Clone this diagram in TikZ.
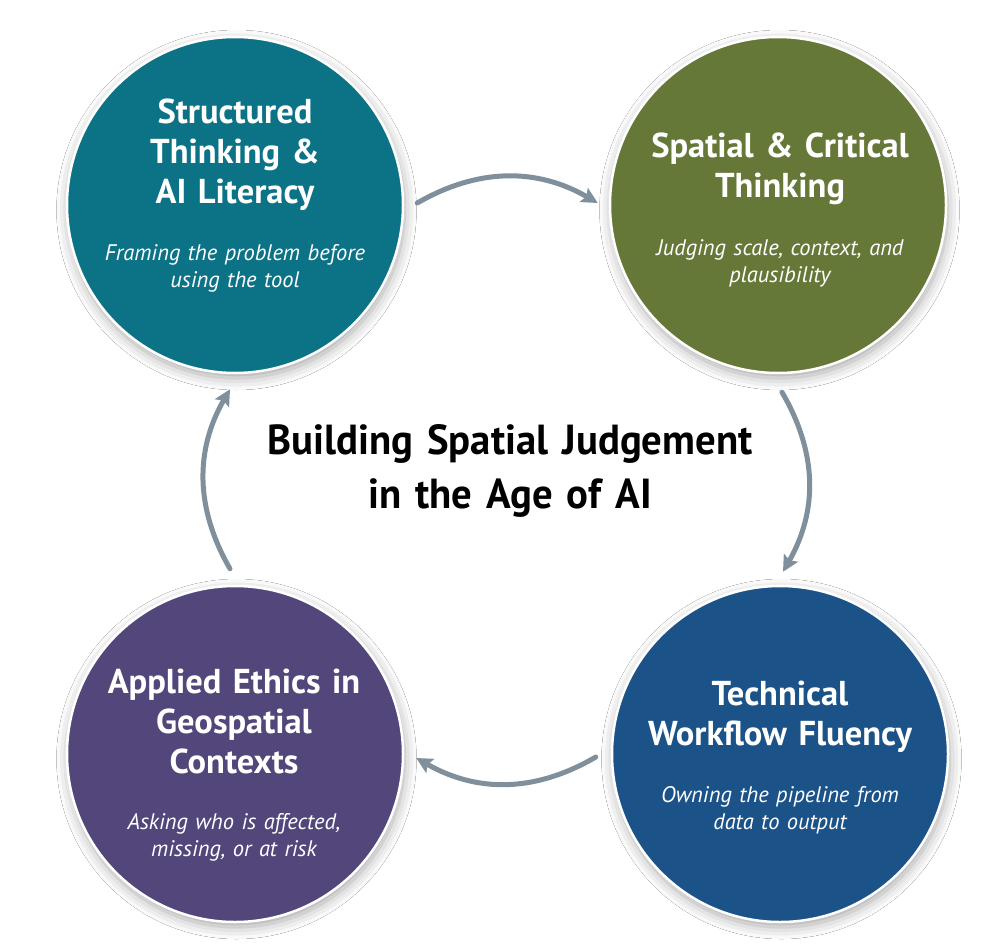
\documentclass[tikz,border=0pt]{standalone}
\usepackage{fontspec}
\setmainfont[WordSpace=0.8]{PT Sans}
\newfontfamily\titlefont[FakeStretch=0.97,WordSpace=0.85]{PT Sans}
\usetikzlibrary{arrows.meta,shadows.blur}
\definecolor{cteal}{HTML}{0C7286}
\definecolor{colive}{HTML}{667838}
\definecolor{cblue}{HTML}{1B5287}
\definecolor{cpurple}{HTML}{52467A}
\definecolor{arrowgray}{HTML}{7F8F9B}
\begin{document}
\begin{tikzpicture}[x=1pt,y=1pt,
  bubble/.style={circle, minimum size=336pt, inner sep=0pt, draw=white, line width=2.5pt,
    blur shadow={shadow xshift=1.5pt, shadow yshift=-5pt, shadow blur radius=12pt, shadow opacity=35}},
  head/.style={text width=330pt, align=center, anchor=base, text=white, inner sep=0pt,
    font=\fontsize{34.5}{40}\selectfont\bfseries},
  sub/.style={text width=330pt, align=center, anchor=base, text=white, inner sep=0pt,
    font=\fontsize{22.5}{27}\selectfont\itshape},
  maintitle/.style={text width=600pt, align=center, anchor=base, text=black, inner sep=0pt,
    font=\titlefont\fontsize{42}{54}\selectfont\bfseries},
  flow/.style={draw=arrowgray, line width=5pt, line cap=round,
    -{Stealth[length=16pt,width=16pt,inset=3pt]}}]
\useasboundingbox (0,0) rectangle (1000,-950);
\fill[white] (0,0) rectangle (1000,-950);
% circles
\node[bubble, fill=cteal]   (c1) at (235,-205) {};
\node[bubble, fill=colive]  (c2) at (778,-205) {};
\node[bubble, fill=cblue]   (c3) at (780,-754) {};
\node[bubble, fill=cpurple] (c4) at (235,-754) {};
% texts
\node[head] (h1) at (235,-123) {Structured\\Thinking \&\\AI Literacy};
\node[sub]  (s1) at (235,-260) {Framing the problem before\\using the tool};
\node[head] (h2) at (780,-157) {Spatial \& Critical\\Thinking};
\node[sub]  (s2) at (780,-255) {Judging scale, context, and\\plausibility};
\node[head] (h3) at (780,-705) {Technical\\Workflow Fluency};
\node[sub]  (s3) at (780,-802) {Owning the pipeline from\\data to output};
\node[head] (h4) at (234,-693) {Applied Ethics in\\Geospatial\\Contexts};
\node[sub]  (s4) at (234,-829) {Asking who is affected,\\missing, or at risk};
\node[maintitle] (t) at (510,-454) {Building Spatial Judgement\\in the Age of AI};
% arrows
\draw[flow] ([xshift=13pt,yshift=2pt]c1.east) to[bend left=30] ([xshift=-11pt,yshift=2pt]c2.west);
\draw[flow] ([xshift=4pt,yshift=-18pt]c2.south) to[bend left=30] ([xshift=3pt,yshift=13pt]c3.north);
\draw[flow] ([xshift=-15pt,yshift=-3pt]c3.west) to[bend left=30] ([xshift=12pt,yshift=-4pt]c4.east);
\draw[flow] ([xshift=-5pt,yshift=16pt]c4.north) to[bend left=30] ([xshift=-5pt,yshift=-15pt]c1.south);
\end{tikzpicture}
\end{document}
